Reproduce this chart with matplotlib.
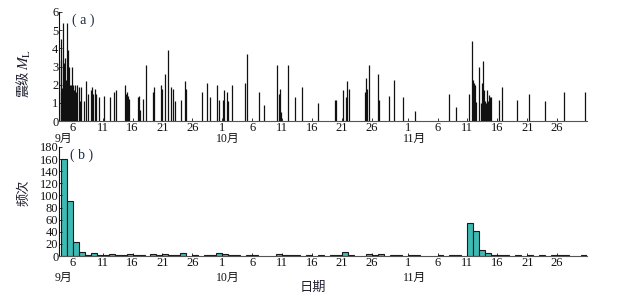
import numpy as np
import matplotlib.pyplot as plt
import matplotlib.transforms as mtransforms

plt.rcParams['font.family'] = ['Liberation Serif', 'Noto Sans CJK SC', 'DejaVu Sans']
plt.rcParams['mathtext.fontset'] = 'stix'

# day numbers counted from 1 Sep (1 Oct = 31, 1 Nov = 62)
event_days = [4.0, 4.05, 4.15, 4.38, 4.55, 4.71, 4.88, 5.11, 5.21, 5.33, 5.5, 5.67,
              5.88, 6.05, 6.38, 6.79, 7.05, 7.22, 7.39, 7.84, 8.23, 8.56, 9.01, 9.23,
              9.4, 9.68, 9.85, 10.4, 11.24, 12.31, 12.91, 13.2, 14.7, 14.87, 15.04,
              15.2, 15.42, 16.88, 17.05, 17.26, 17.77, 18.27, 19.44, 19.61, 20.78,
              20.95, 21.45, 21.9, 22.4, 22.74, 23.12, 24.13, 24.8, 24.91, 27.64,
              28.48, 28.98, 30.05, 30.38, 31.1, 31.32, 31.82, 31.99, 32.66, 34.84,
              35.17, 37.18, 38.02, 40.19, 40.53, 40.69, 40.86, 42.03, 43.2, 44.38,
              47.09, 49.9, 50.1, 51.24, 51.74, 51.91, 52.24, 54.92, 55.09, 55.25,
              55.59, 57.1, 57.26, 58.94, 59.77, 61.28, 63.29, 68.98, 70.15, 72.33,
              72.83, 73.0, 73.16, 73.33, 73.5, 74.0, 74.33, 74.5, 74.67, 74.84, 75.0,
              75.17, 75.34, 75.5, 75.67, 75.84, 76.0, 77.35, 77.85, 80.36, 82.37,
              85.05, 88.23, 91.74]
event_mags = [4.5, 3.36, 1.5, 5.4, 3.2, 3.45, 2.25, 5.4, 3.9, 3.0, 2.0, 2.0,
              3.0, 2.0, 2.0, 2.0, 1.9, 1.1, 1.9, 1.1, 2.2, 1.5, 1.7, 1.85,
              1.5, 1.75, 1.5, 1.3, 1.4, 1.3, 1.6, 1.7, 2.0, 1.5, 1.6,
              1.4, 1.2, 1.3, 1.4, 0.6, 1.2, 3.1, 1.6, 1.85, 2.0,
              1.75, 2.6, 3.9, 1.85, 1.75, 1.1, 1.15, 2.2, 1.75, 1.6,
              2.1, 1.3, 2.0, 1.15, 1.15, 1.7, 1.6, 1.1, 2.0, 2.1,
              3.7, 1.6, 0.9, 3.1, 1.5, 1.75, 0.5, 3.1, 1.3, 1.9,
              1.0, 1.15, 1.15, 1.7, 1.3, 2.2, 1.75, 1.6, 2.35, 1.75,
              3.1, 2.6, 1.15, 1.4, 2.25, 1.3, 0.55, 1.5, 0.75, 1.5,
              4.4, 2.25, 2.1, 2.0, 1.05, 3.0, 1.0, 2.1, 3.3, 1.7, 1.1,
              1.0, 1.7, 1.1, 1.45, 1.35, 1.3, 1.15, 1.85, 1.15, 1.5,
              1.1, 1.6, 1.6]
# dense small events of the first days (the filled black block)
swarm_days = [4.1, 4.2, 4.25, 4.3, 4.45, 4.5, 4.6, 4.65, 4.8, 4.95, 5.0, 5.05,
              5.15, 5.25, 5.4, 5.45, 5.55, 5.6, 5.75, 5.8, 5.95, 6.0, 6.15,
              6.2, 6.3, 6.5, 6.6]
swarm_mags = [1.6, 1.5, 1.8, 1.7, 1.6, 1.5, 1.9, 1.6, 1.7, 1.5, 1.8, 1.6,
              1.7, 1.5, 1.8, 1.6, 1.5, 1.7, 1.6, 1.5, 1.8, 1.6, 1.5,
              1.7, 1.5, 1.6, 1.5]

count_days = [4, 5, 6, 7, 8, 9, 10, 11, 12, 13, 14, 15, 16, 17, 19, 20, 21, 22, 23,
              24, 26, 28, 29, 30, 31, 32, 33, 35, 36, 40, 41, 42, 43, 45, 47, 49,
              50, 51, 52, 55, 56, 57, 59, 60, 62, 63, 67, 69, 70, 72, 73, 74, 75,
              76, 77, 78, 80, 82, 84, 86, 87, 88, 91]
counts = [160, 90, 23, 7, 2, 5, 1, 1, 3, 1, 1, 3, 1, 1, 3, 1, 3, 2, 1,
          5, 1, 1, 1, 5, 3, 2, 1, 1, 1, 3, 2, 1, 1, 1, 1, 1,
          1, 7, 2, 4, 2, 3, 2, 1, 1, 1, 1, 1, 1, 54, 42, 10, 5,
          1, 2, 1, 1, 2, 1, 1, 1, 1, 1]

tick_days = [6, 11, 16, 21, 26, 31, 36, 41, 46, 51, 56, 62, 67, 72, 77, 82, 87]
tick_labels = ['6', '11', '16', '21', '26', '1', '6', '11', '16', '21', '26',
               '1', '6', '11', '16', '21', '26']
month_days = [4.5, 32.0, 63.2]
month_labels = ['9月', '10月', '11月']

fig = plt.figure(figsize=(6.19, 2.99), dpi=100)
ax1 = fig.add_axes([0.0953, 0.595, 0.853, 0.365])
ax2 = fig.add_axes([0.0953, 0.1438, 0.853, 0.3646])

ax1.vlines(event_days + swarm_days, 0, event_mags + swarm_mags, color='#111111', lw=0.9)
ax2.bar(count_days, counts, width=1.0, align='edge', color='#3cbab3',
        edgecolor='#1a1a1a', linewidth=0.8)

for ax, ymax, yticks, mlab_y in [(ax1, 6, range(0, 7), -0.162),
                                 (ax2, 180, range(0, 181, 20), -0.205)]:
    ax.set_xlim(3.7, 92.0)
    ax.set_ylim(0, ymax)
    ax.set_yticks(list(yticks))
    ax.set_xticks(tick_days)
    ax.set_xticklabels(tick_labels)
    for s in ['top', 'right']:
        ax.spines[s].set_visible(False)
    ax.spines['left'].set_color('#111111')
    ax.spines['bottom'].set_color('#555555')
    ax.tick_params(direction='in', length=2, width=0.6, labelsize=9, pad=0.5,
                   colors='#111111')
    trans = mtransforms.blended_transform_factory(ax.transData, ax.transAxes)
    for d, lab in zip(month_days, month_labels):
        ax.text(d, mlab_y, lab, transform=trans, ha='center', va='center',
                fontsize=8.5, color='#111111')

ax1.text(0.046, 0.99, '( a )', transform=ax1.transAxes, ha='center', va='top',
         fontsize=10, color='#1a2a4a')
ax2.text(0.042, 0.99, '( b )', transform=ax2.transAxes, ha='center', va='top',
         fontsize=10, color='#1a2a4a')

fig.text(0.04, 0.72, '震级', rotation=90, ha='center', va='center',
         fontsize=9.5, color='#222233')
fig.text(0.04, 0.80, '$M_\\mathrm{L}$', rotation=90, ha='center', va='center',
         fontsize=11, color='#222233')
fig.text(0.04, 0.356, '频次', rotation=90, ha='center', va='center',
         fontsize=9.5, color='#222233')
fig.text(0.506, 0.037, '日期', ha='center', va='center', fontsize=9.5, color='#222233')

fig.savefig('out.png', dpi=100)
